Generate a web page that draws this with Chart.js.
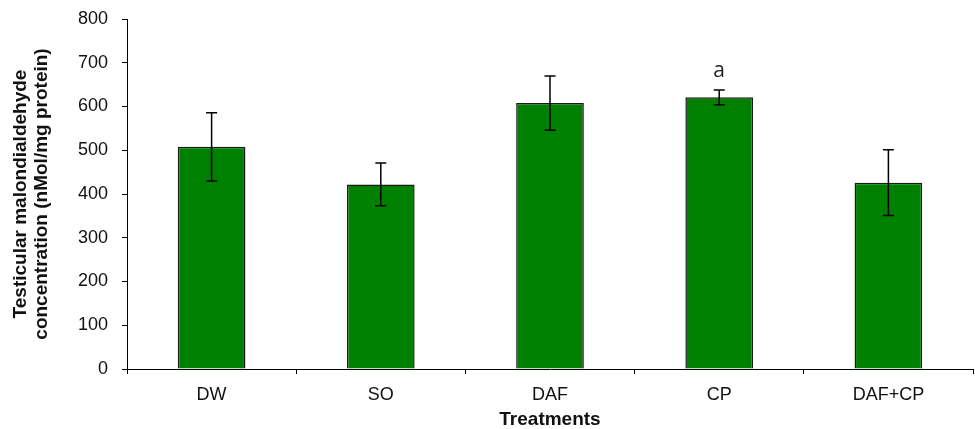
<!DOCTYPE html>
<html>
<head>
<meta charset="utf-8">
<script src="https://cdn.jsdelivr.net/npm/chart.js@4"></script>
<style>
  html, body { margin: 0; padding: 0; background: #fff; }
  #wrap { width: 975px; height: 429px; }
</style>
</head>
<body>
<div id="wrap"><canvas id="mdaChart"></canvas></div>
<script>
const treatments = ['DW', 'SO', 'DAF', 'CP', 'DAF+CP'];
const mdaMean = [508, 422, 608, 621, 426];
const mdaError = [78, 49, 62, 17, 75];
const sigLabels = ['', '', '', 'a', ''];
const yTicks = [0, 100, 200, 300, 400, 500, 600, 700, 800];

// error bars + significance letters, positioned from the scales
const errorBars = {
    id: 'errorBars',
    afterDatasetsDraw(chart) {
        const ctx = chart.ctx;
        const x = chart.scales.x;
        const y = chart.scales.y;
        ctx.save();
        ctx.strokeStyle = '#000';
        ctx.lineWidth = 1.5;
        mdaMean.forEach(function (v, i) {
            const cx = x.getPixelForValue(i);
            const top = y.getPixelForValue(v + mdaError[i]);
            const bot = y.getPixelForValue(v - mdaError[i]);
            ctx.beginPath();
            ctx.moveTo(cx, top); ctx.lineTo(cx, bot);
            ctx.moveTo(cx - 5.5, top); ctx.lineTo(cx + 5.5, top);
            ctx.moveTo(cx - 5.5, bot); ctx.lineTo(cx + 5.5, bot);
            ctx.stroke();
            if (sigLabels[i]) {
                ctx.fillStyle = '#222';
                ctx.font = '21px "Open Sans", sans-serif';
                ctx.textAlign = 'center';
                ctx.textBaseline = 'bottom';
                ctx.fillText(sigLabels[i], cx, top - 8);
            }
        });
        ctx.restore();
    }
};

const ctx = document.getElementById('mdaChart').getContext('2d');
new Chart(ctx, {
    type: 'bar',
    data: {
        labels: treatments,
        datasets: [{
            data: mdaMean,
            backgroundColor: '#008000',
            borderColor: '#1a1a1a',
            borderWidth: 1.5,
            categoryPercentage: 1.0,
            barPercentage: 0.4
        }]
    },
    options: {
        responsive: true,
        maintainAspectRatio: false,
        animation: false,
        layout: { padding: { top: 19, right: 2, left: 10, bottom: 0 } },
        plugins: {
            legend: { display: false },
            tooltip: { enabled: false }
        },
        scales: {
            x: {
                grid: {
                    offset: true,
                    drawOnChartArea: false,
                    drawTicks: true,
                    tickLength: 5,
                    color: '#000'
                },
                border: { color: '#000', width: 1 },
                ticks: {
                    color: '#111',
                    font: { family: 'Liberation Sans', size: 18 },
                    padding: 10
                },
                title: {
                    display: true,
                    text: 'Treatments',
                    color: '#111',
                    font: { family: 'Liberation Sans', size: 19, weight: 'bold', lineHeight: 1.0 },
                    padding: { top: 0, bottom: 0 }
                },
                afterFit: function (scale) { scale.height = 60; }
            },
            y: {
                min: 0,
                max: 800,
                afterBuildTicks: function (scale) {
                    scale.ticks = yTicks.map(function (v) { return { value: v }; });
                },
                grid: {
                    drawOnChartArea: false,
                    drawTicks: true,
                    tickLength: 5,
                    color: '#000'
                },
                border: { color: '#000', width: 1 },
                ticks: {
                    color: '#111',
                    font: { family: 'Liberation Sans', size: 18 },
                    padding: 14
                },
                title: {
                    display: true,
                    text: ['Testicular malondialdehyde', 'concentration (nMol/mg protein)'],
                    color: '#111',
                    font: { family: 'Liberation Sans', size: 19, weight: 'bold', lineHeight: 1.1 },
                    padding: { top: 0, bottom: 0 }
                },
                afterFit: function (scale) {
                    scale.width = 117;
                    // let layout.padding decide the top gap
                    scale.paddingTop = 0;
                    scale.paddingBottom = 0;
                }
            }
        }
    },
    plugins: [errorBars]
});
</script>
</body>
</html>
